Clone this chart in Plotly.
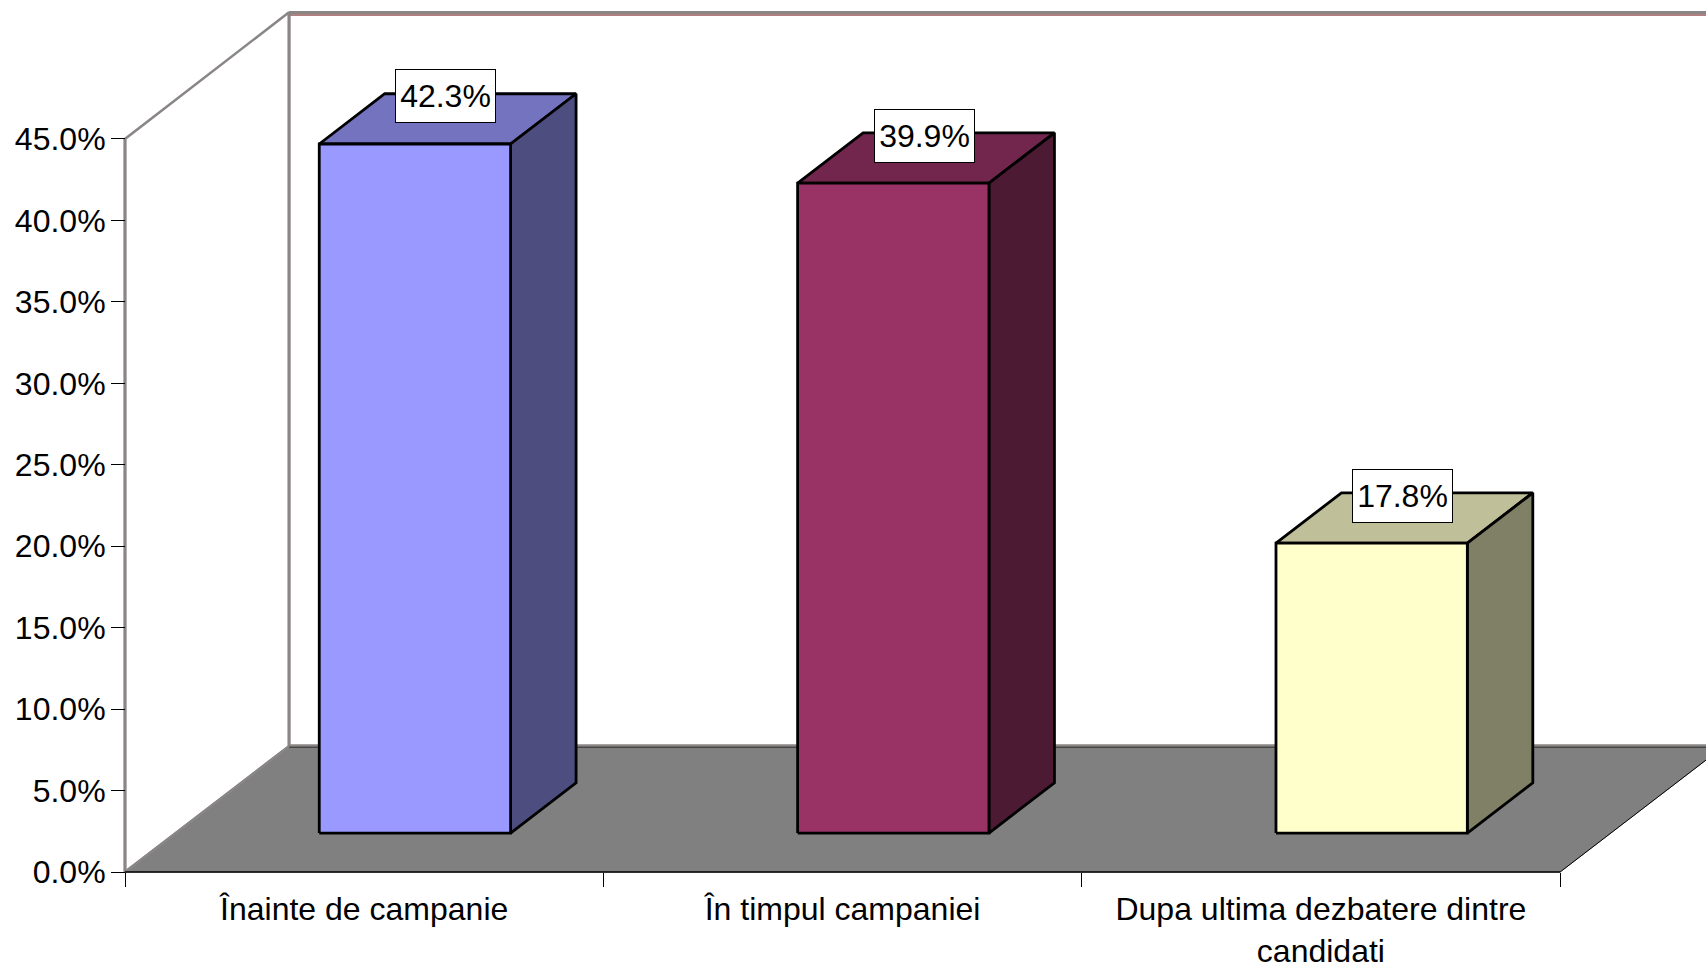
import plotly.graph_objects as go

categories = ["Înainte de campanie", "În timpul campaniei", "Dupa ultima dezbatere dintre<br>candidati"]
values = [42.3, 39.9, 17.8]
front_colors = ["#9999FF", "#993366", "#FFFFCC"]
top_colors = ["#7373BF", "#73264D", "#BFBF99"]
side_colors = ["#4D4D80", "#4D1A33", "#808066"]
y_ticks = [0, 5, 10, 15, 20, 25, 30, 35, 40, 45]
y_labels = [f"{v:.1f}%" for v in y_ticks]

# oblique projection of the depth axis, in axis units
DX, DY = 0.3422, 7.71
DEPTH0, DEPTH1 = 0.31, 0.71
BAR_WIDTH = 0.4
Y_MAX = 45
N = len(categories)
FONT = "Liberation Sans"
WALL_GREY = "#8A8686"
WALL_PINK = "#B08080"

# plot area is a little larger than the chart so edge lines are not clipped
W, H = 1706, 965
M_L, M_B = 120, 88
PAD = 5
PLOT_W, PLOT_H = W - M_L, H - M_B
X_RANGE = [-PAD / 478.33, 3.305]
Y_RANGE = [-PAD / 16.29, 53.53]


def proj(x, y, d):
    return x + d * DX, y + d * DY


def poly(points, fill, line="black", width=2, closed=True):
    pts = list(points) + ([points[0]] if closed else [])
    return go.Scatter(
        x=[p[0] for p in pts], y=[p[1] for p in pts], mode="lines",
        fill="toself" if fill else None, fillcolor=fill,
        line=dict(color=line, width=width), hoverinfo="skip", showlegend=False,
    )


fig = go.Figure()

# back wall: pink edge under a grey edge
pink_shift = 0.1
grey_shift = 0.05
side_shift = 0.003
fig.add_trace(poly([proj(0, 0, 1), proj(N, 0, 1), proj(N, Y_MAX - pink_shift, 1), proj(0, Y_MAX - pink_shift, 1)],
                   "white", WALL_PINK, 2))
fig.add_trace(poly([proj(-side_shift, 0, 1), proj(-side_shift, Y_MAX, 1)], None, WALL_PINK, 1.5, closed=False))
fig.add_trace(poly([proj(0, Y_MAX + grey_shift, 1), proj(N, Y_MAX + grey_shift, 1)], None, WALL_GREY, 3, closed=False))
fig.add_trace(poly([proj(side_shift / 3, 0, 1), proj(side_shift / 3, Y_MAX + grey_shift, 1)], None, WALL_GREY, 3, closed=False))
# side wall
fig.add_trace(poly([proj(0, 0, 0), proj(0, Y_MAX, 0), proj(0, Y_MAX + grey_shift, 1), proj(0, 0, 1)], "white", WALL_GREY, 2.5))
# floor
fig.add_trace(poly([proj(0, 0, 0), proj(N, 0, 0), proj(N, 0, 1), proj(0, 0, 1)], "#808080", "#808080", 1))
fig.add_trace(poly([proj(0, grey_shift, 1), proj(N, grey_shift, 1)], None, WALL_GREY, 2.5, closed=False))
fig.add_trace(poly([proj(0, -grey_shift, 1), proj(N, -grey_shift, 1)], None, "#303030", 1, closed=False))
fig.add_trace(poly([proj(0, 0, 0), proj(0, 0, 1)], None, WALL_GREY, 2.5, closed=False))
fig.add_trace(poly([proj(N, 0, 0), proj(N, 0, 1)], None, "black", 1, closed=False))
fig.add_trace(poly([proj(0, 0, 0), proj(0, Y_MAX, 0)], None, WALL_GREY, 3, closed=False))
fig.add_trace(poly([proj(0, 0, 0), proj(N, 0, 0)], None, "black", 1.5, closed=False))

for i, v in enumerate(values):
    x0 = i + 0.5 - BAR_WIDTH / 2
    x1 = i + 0.5 + BAR_WIDTH / 2
    fig.add_trace(poly([proj(x0, v, DEPTH0), proj(x1, v, DEPTH0), proj(x1, v, DEPTH1), proj(x0, v, DEPTH1)], top_colors[i], width=2.8))
    fig.add_trace(poly([proj(x1, 0, DEPTH0), proj(x1, v, DEPTH0), proj(x1, v, DEPTH1), proj(x1, 0, DEPTH1)], side_colors[i], width=2.8))
    fig.add_trace(poly([proj(x0, 0, DEPTH0), proj(x1, 0, DEPTH0), proj(x1, v, DEPTH0), proj(x0, v, DEPTH0)], front_colors[i], width=2.8))
    lx, ly = proj(i + 0.5, v, (DEPTH0 + DEPTH1) / 2)
    fig.add_annotation(
        x=lx, y=ly + 1.38, xshift=-2, text=f"{v:.1f}%", showarrow=False, xanchor="center", yanchor="middle",
        width=99, height=52, bgcolor="white", bordercolor="black", borderwidth=1, borderpad=0,
        font=dict(family=FONT, size=32, color="black"),
    )

fig.update_layout(
    width=W, height=H, margin=dict(l=M_L, r=0, t=0, b=M_B),
    paper_bgcolor="white", plot_bgcolor="white", showlegend=False,
    font=dict(family=FONT, size=32, color="black"),
    hovermode=False,
    xaxis=dict(
        range=X_RANGE, showgrid=False, zeroline=False, showline=False,
        anchor="free", position=PAD / PLOT_H,
        tickmode="array", tickvals=[i + 0.5 for i in range(N)], ticktext=categories,
        ticks="", ticklabelstandoff=15, automargin=False,
        minor=dict(tickmode="array", tickvals=list(range(N + 1)), ticks="outside",
                   ticklen=14, tickwidth=1, tickcolor="black", showgrid=False),
        fixedrange=True,
    ),
    yaxis=dict(
        range=Y_RANGE, showgrid=False, zeroline=False, showline=False,
        anchor="free", position=PAD / PLOT_W,
        tickmode="array", tickvals=y_ticks, ticktext=y_labels,
        ticks="outside", ticklen=14, tickwidth=1, tickcolor="black",
        ticklabelstandoff=-1, automargin=False, fixedrange=True,
    ),
)

fig.write_html("out.html", config=dict(displayModeBar=False),
               post_script="document.body.style.margin='0';")
